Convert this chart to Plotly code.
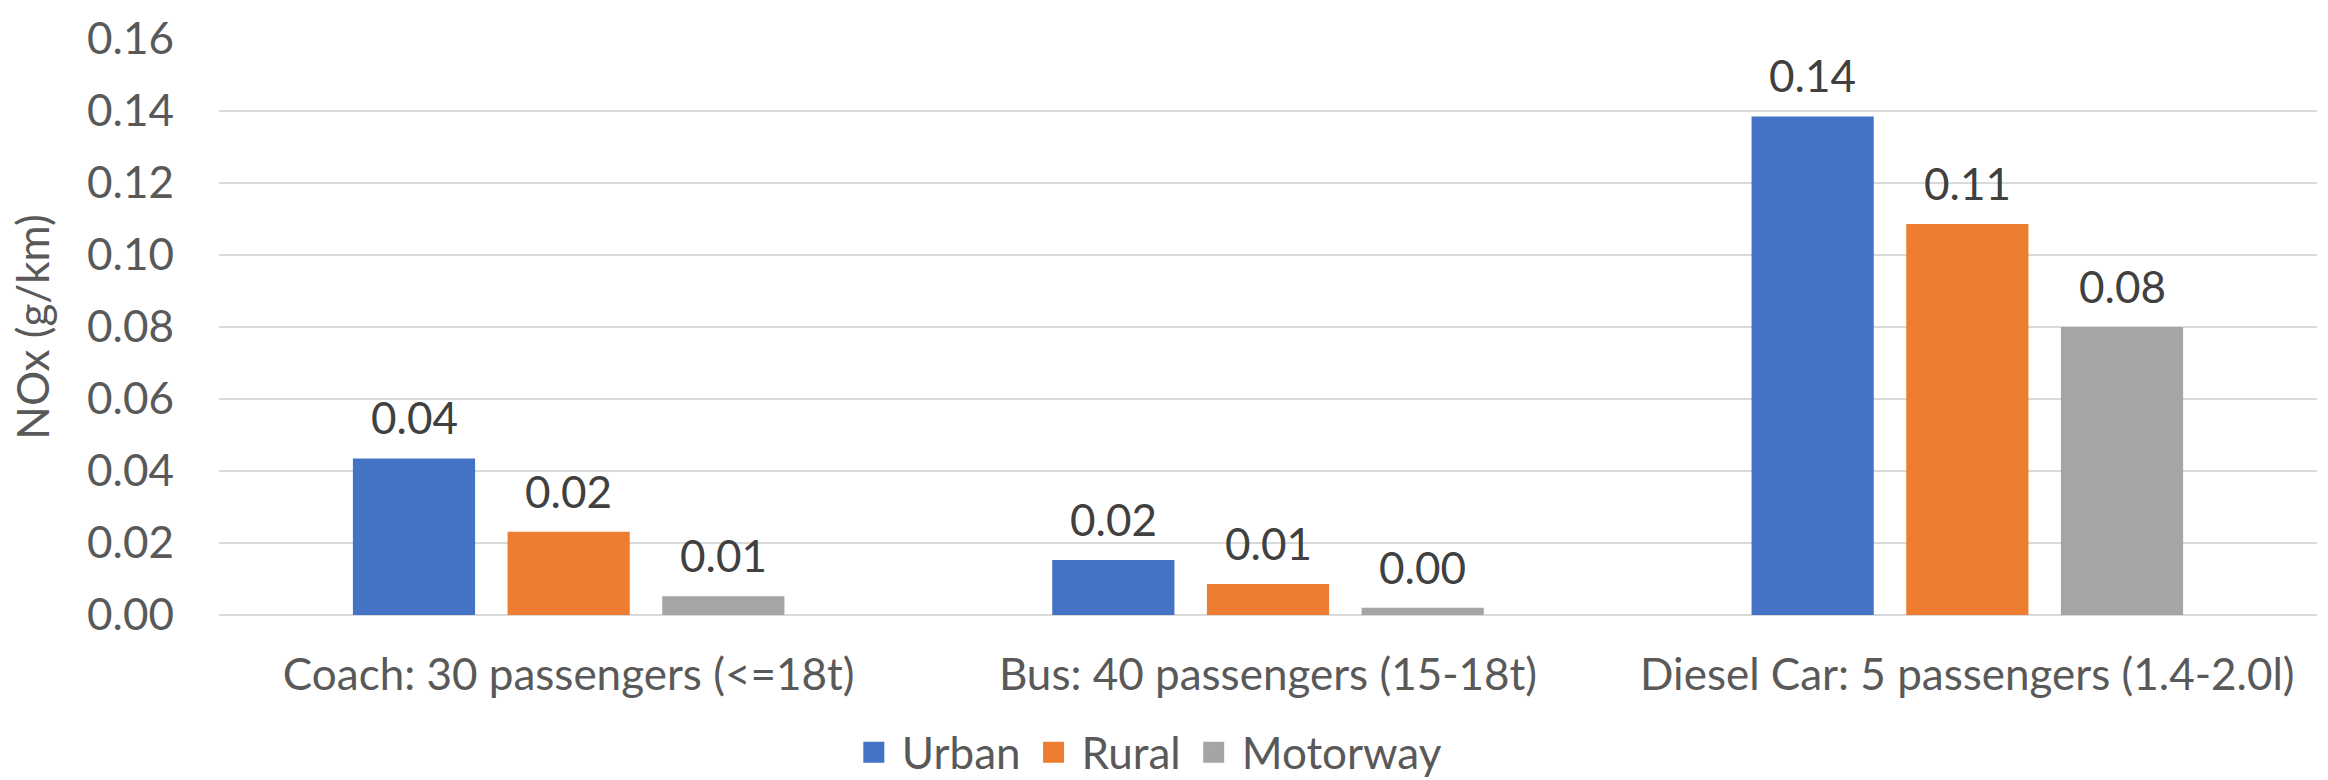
import plotly.graph_objects as go

# NOx emissions per passenger-km by vehicle type and driving cycle
categories = [
    "Coach: 30 passengers (<=18t)",
    "Bus: 40 passengers (15-18t)",
    "Diesel Car: 5 passengers (1.4-2.0l)",
]
series_names = ["Urban", "Rural", "Motorway"]
urban = [0.0435, 0.0153, 0.1385]
rural = [0.0231, 0.0086, 0.1086]
motorway = [0.0052, 0.0020, 0.0800]
y_ticks = [0.00, 0.02, 0.04, 0.06, 0.08, 0.10, 0.12, 0.14, 0.16]

colors = ["#4472C4", "#ED7D31", "#A5A5A5"]
FONT = "Lato"
FS = 44
BARGAP = 0.3365

fig = go.Figure()
all_series = [urban, rural, motorway]
for name, vals, col in zip(series_names, all_series, colors):
    fig.add_trace(go.Bar(
        name=name, x=categories, y=vals, showlegend=False,
        marker=dict(color=col, line=dict(width=0)),
    ))

# legend entries: larger square keys than the default bar swatch
for name, col in zip(series_names, colors):
    fig.add_trace(go.Scatter(
        name=name, x=[categories[0]], y=[None], mode="markers",
        marker=dict(symbol="square", size=16, color=col,
                    line=dict(color=col, width=5)),
        hoverinfo="skip",
    ))

# value labels above each bar
slot = (1 - BARGAP) / len(all_series)
for s, vals in enumerate(all_series):
    for i, v in enumerate(vals):
        fig.add_annotation(
            x=i + (s - 1) * slot, y=v, xref="x", yref="y",
            text=f"{v:.2f}", showarrow=False,
            yanchor="bottom", yshift=13,
            font=dict(family=FONT, size=FS, color="#404040"),
        )

fig.update_layout(
    width=2328, height=780,
    barmode="group", bargap=BARGAP, bargroupgap=0.21,
    plot_bgcolor="white", paper_bgcolor="white",
    margin=dict(l=219, r=11, t=29, b=165),
    font=dict(family=FONT, size=FS, color="#595959"),
    legend=dict(
        orientation="h", x=0.442, xanchor="center",
        y=0.035, yref="container", yanchor="middle",
        font=dict(family=FONT, size=FS, color="#595959"),
        tracegroupgap=0, itemwidth=46,
    ),
    showlegend=True,
)
fig.update_yaxes(
    range=[0, 0.16], tickvals=y_ticks, tickformat=".2f",
    showgrid=True, gridcolor="#D9D9D9", gridwidth=2,
    zeroline=True, zerolinecolor="#D9D9D9", zerolinewidth=2,
    showline=False, ticks="", ticklabelstandoff=44,
    tickfont=dict(family=FONT, size=FS, color="#595959"),
    title=dict(text="NOx (g/km)", standoff=23,
               font=dict(family=FONT, size=FS, color="#595959")),
)
fig.update_xaxes(
    showgrid=False, showline=False, ticks="", ticklabelstandoff=30,
    tickfont=dict(family=FONT, size=FS, color="#595959"),
)

fig.write_html("out.html")
